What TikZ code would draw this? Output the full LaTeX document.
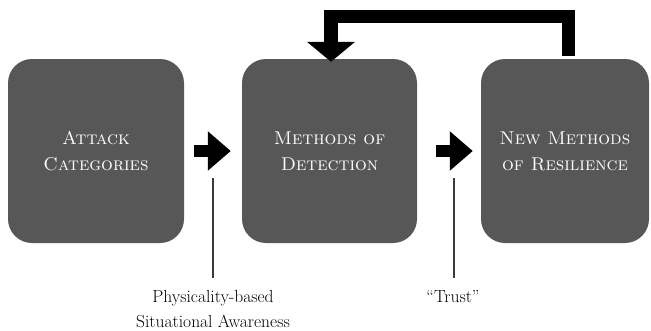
\documentclass[tikz,border=0pt]{standalone}
\usetikzlibrary{arrows.meta,calc}
\definecolor{boxgray}{HTML}{575757}
\definecolor{linegray}{HTML}{3A3A3A}
\begin{document}
\begin{tikzpicture}[x=1pt,y=-1pt,
  catbox/.style={fill=boxgray,draw=none,rounded corners=24pt,minimum height=184pt,
    text=white,align=center,font=\fontsize{18.5}{28}\selectfont\scshape,inner sep=0pt},
  flowarrow/.style={line width=12pt,-{Triangle[length=23pt,width=38pt]}},
  fbarrow/.style={line width=13.5pt,line join=miter,-{Triangle[length=20pt,width=47pt]}},
  tick/.style={draw=linegray,line width=1.4pt},
  caption/.style={align=center,font=\fontsize{17.5}{25}\selectfont,inner sep=0pt,anchor=north}]
\useasboundingbox (0,0) rectangle (651,330);
\node[catbox,minimum width=176pt] (a) at (96,151) {Attack\\[-2pt]Categories};
\node[catbox,minimum width=175pt] (b) at (329.5,151) {Methods of\\[-2pt]Detection};
\node[catbox,minimum width=168pt] (c) at (565,151) {New Methods\\[-2pt]of Resilience};
\draw[flowarrow] ([xshift=10pt]a.east) -- ([xshift=-11pt]b.west);
\draw[flowarrow] ([xshift=19pt]b.east) -- ([xshift=-8pt]c.west);
\draw[fbarrow] ([xshift=3.5pt,yshift=3pt]c.north) -- ++(0,-39.5) -| ([xshift=1.5pt,yshift=-3pt]b.north);
\node[caption] (p) at (213,290) {Physicality-based\\Situational Awareness};
\node[caption] (t) at (453,290) {``Trust''};
\coordinate (pt) at (213,178);
\coordinate (tt) at (454,178);
\draw[tick] (pt) -- (pt |- 0,278);
\draw[tick] (tt) -- (tt |- 0,278);
\end{tikzpicture}
\end{document}
